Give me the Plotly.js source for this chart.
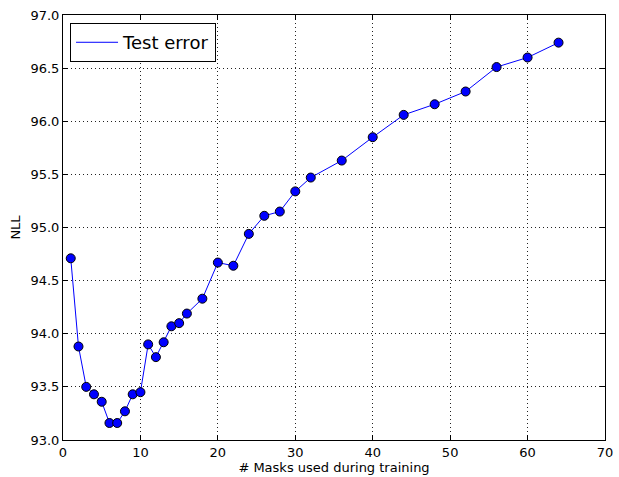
<!DOCTYPE html>
<html>
<head>
<meta charset="utf-8">
<script src="https://cdn.plot.ly/plotly-3.0.1.min.js"></script>
<style>html,body{margin:0;padding:0;background:#fff;}#chart{width:619px;height:477px;}</style>
</head>
<body>
<div id="chart"></div>
<script>
const masks = [1,2,3,4,5,6,7,8,9,10,11,12,13,14,15,16,18,20,22,24,26,28,30,32,36,40,44,48,52,56,60,64];
const nll = [94.71,93.88,93.50,93.43,93.36,93.16,93.16,93.27,93.43,93.45,93.90,93.78,93.92,94.07,94.10,94.19,94.33,94.67,94.64,94.94,95.11,95.15,95.34,95.47,95.63,95.85,96.06,96.16,96.28,96.51,96.60,96.74];
const seriesName = 'Test error';
const xTicks = [0,10,20,30,40,50,60,70];
const yTicks = [93.0,93.5,94.0,94.5,95.0,95.5,96.0,96.5,97.0];

const font = {family: 'DejaVu Sans, sans-serif', size: 13, color: '#000'};
const traces = [
  {x: masks, y: nll, mode: 'lines+markers', showlegend: false,
   line: {color: '#0000ff', width: 1},
   marker: {color: '#0000ff', size: 9, line: {color: '#000', width: 1}}},
  {x: [null], y: [null], mode: 'lines', name: seriesName,
   line: {color: '#0000ff', width: 1}}
];
const axisCommon = {
  showline: true, linecolor: '#000', linewidth: 1, mirror: 'ticks',
  ticks: 'inside', ticklen: 5, tickcolor: '#000',
  showgrid: true, gridcolor: '#222', griddash: '1px,3px', gridwidth: 1,
  zeroline: false, tickfont: font
};
const layout = {
  width: 619, height: 477,
  margin: {l: 63, r: 14, t: 15, b: 37},
  paper_bgcolor: '#fff', plot_bgcolor: '#fff',
  font: font,
  xaxis: Object.assign({}, axisCommon, {
    range: [0, 70], tickvals: xTicks, ticktext: xTicks.map(String),
    title: {text: '# Masks used during training', font: font, standoff: 2}
  }),
  yaxis: Object.assign({}, axisCommon, {
    range: [93, 97], tickvals: yTicks, ticktext: yTicks.map(v => v.toFixed(1)),
    title: {text: 'NLL', font: font, standoff: 6}
  }),
  legend: {x: 0.013, y: 0.981, xanchor: 'left', yanchor: 'top',
    bordercolor: '#000', borderwidth: 1, bgcolor: '#fff', itemwidth: 42,
    font: {family: 'DejaVu Sans, sans-serif', size: 18, color: '#000'}}
};
Plotly.newPlot('chart', traces, layout, {displayModeBar: false, staticPlot: true});
</script>
</body>
</html>
